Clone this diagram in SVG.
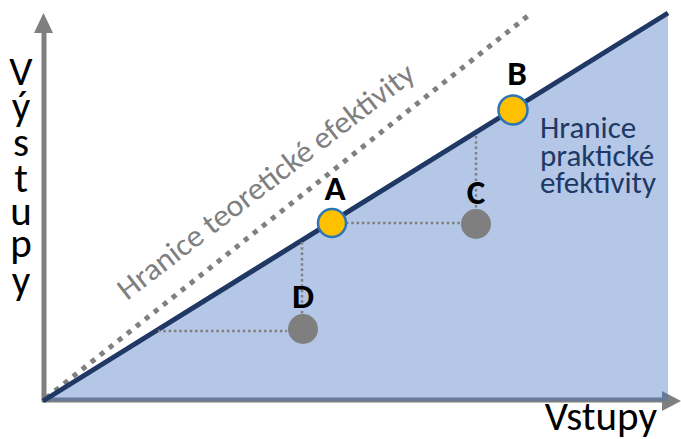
<svg xmlns="http://www.w3.org/2000/svg" width="681" height="439" viewBox="0 0 681 439">
<style>
.axis{stroke:#7f7f7f;stroke-width:5;fill:none}
.head{fill:#7f7f7f}
.guide{stroke:#7f7f7f;stroke-width:2.5;stroke-dasharray:2.5 2.8;fill:none}
.lbl{font-family:Carlito,"Liberation Sans",Arial,sans-serif;font-weight:bold;font-size:35px;fill:#000;text-anchor:middle}
.ax{font-family:Carlito,"Liberation Sans",Arial,sans-serif;font-size:41px;fill:#000}
.pt{fill:#ffc000;stroke:#2e75b6;stroke-width:2.5}
.gp{fill:#7f7f7f}
</style>
<rect width="681" height="439" fill="#ffffff"/>
<g id="axes">
  <line class="axis" x1="44" y1="402" x2="44" y2="30"/>
  <polygon class="head" points="43.5,13 53,33 34,33"/>
  <line class="axis" x1="42" y1="400" x2="664" y2="400"/>
  <polygon class="head" points="681,401 662,391 662,411"/>
</g>
<polygon id="region" points="43,401 668,13 668,401" fill="#4472c4" fill-opacity="0.4"/>
<g id="theory">
  <line x1="46" y1="398" x2="529" y2="15" stroke="#808080" stroke-width="5" stroke-dasharray="5 6.5"/>
  <text transform="translate(127,301) rotate(-37.6)" font-family="Carlito,'Liberation Sans',Arial,sans-serif" font-size="31" fill="#7f7f7f" textLength="366" lengthAdjust="spacingAndGlyphs">Hranice teoretické efektivity</text>
</g>
<g id="frontier">
  <line x1="43" y1="401" x2="668" y2="13" stroke="#203864" stroke-width="5"/>
  <text font-family="Carlito,'Liberation Sans',Arial,sans-serif" font-size="31" fill="#203864"><tspan x="540" y="138">Hranice</tspan><tspan x="540" y="166">praktické</tspan><tspan x="540" y="193">efektivity</tspan></text>
</g>
<g id="connectors">
  <line class="guide" x1="346" y1="223" x2="461" y2="223"/>
  <line class="guide" x1="476" y1="136" x2="476" y2="209"/>
  <line class="guide" x1="302" y1="242" x2="302" y2="314"/>
  <line class="guide" x1="158" y1="331" x2="287" y2="331"/>
</g>
<g id="node-A">
  <circle class="pt" cx="332" cy="223" r="14"/>
  <text class="lbl" x="335" y="200">A</text>
</g>
<g id="node-B">
  <circle class="pt" cx="513" cy="110" r="14.5"/>
  <text class="lbl" x="517" y="85">B</text>
</g>
<g id="node-C">
  <circle class="gp" cx="476" cy="224" r="15"/>
  <text class="lbl" x="476" y="204">C</text>
</g>
<g id="node-D">
  <circle class="gp" cx="303" cy="329" r="15"/>
  <text class="lbl" x="303" y="308">D</text>
</g>
<text id="y-label" class="ax" text-anchor="middle"><tspan x="21" y="85">V</tspan><tspan x="21" y="120">ý</tspan><tspan x="21" y="156">s</tspan><tspan x="21" y="192">t</tspan><tspan x="21" y="225">u</tspan><tspan x="21" y="257">p</tspan><tspan x="21" y="294">y</tspan></text>
<text class="ax" x="657" y="430" text-anchor="end" font-size="41">Vstupy</text>
</svg>
